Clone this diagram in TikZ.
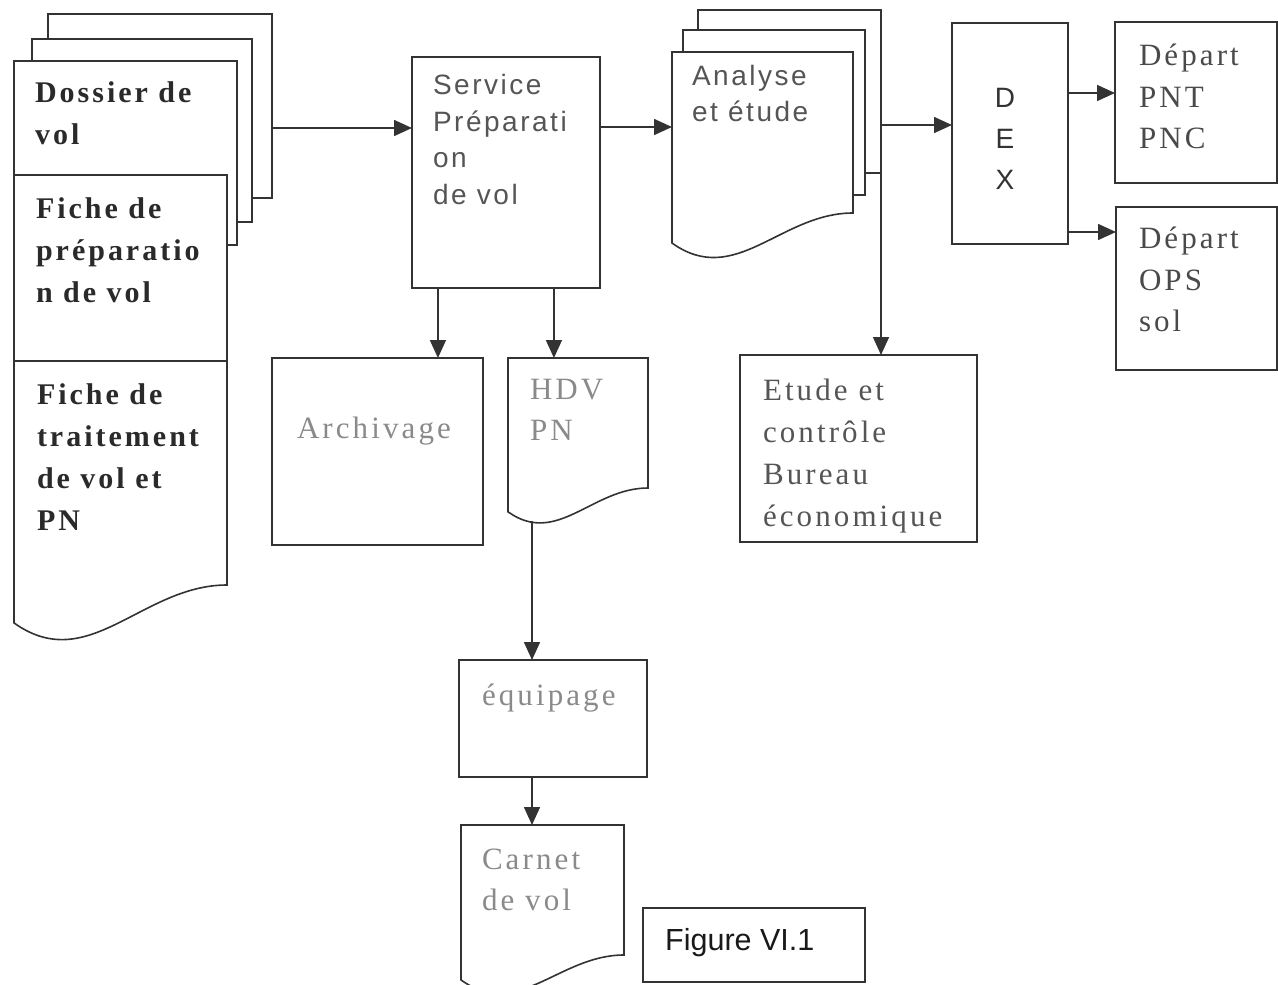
\documentclass[tikz,border=0pt]{standalone}
\usepackage{fontspec}
\setmainfont{Liberation Serif}
\newfontfamily\tnr[LetterSpace=10]{Liberation Serif}
\newfontfamily\arl[LetterSpace=9]{Liberation Sans}
\newfontfamily\arlplain{Liberation Sans}
\usetikzlibrary{arrows.meta,calc}

\definecolor{ink}{HTML}{333333}
\definecolor{tdark}{HTML}{2A2A2A}
\definecolor{tmid}{HTML}{555555}
\definecolor{tlight}{HTML}{8A8A8A}

% outline of a flowchart "document" sheet with a wavy lower edge
\newcommand\docsheet[2]{%
  \draw[line,fill=white] let \p1=(#1.north west), \p2=(#1.south east),
      \n1={\x2-\x1}, \n2={#2*\n1} in
    (\p1) -- (\x1,\y2-\n2)
    .. controls (\x1+0.35*\n1,\y2-\n2-0.25*\n1) and (\x1+0.6*\n1,\y2) .. (\p2)
    -- (\x2,\y1) -- cycle;}

\begin{document}
\begin{tikzpicture}[x=1pt,y=-1pt,
  line/.style={draw=ink,line width=1.6pt},
  frame/.style={line,fill=white,rectangle,inner sep=0pt,outer sep=0pt},
  ghost/.style={rectangle,inner sep=0pt,outer sep=0pt,draw=none},
  arr/.style={draw=ink,line width=1.6pt,-{Triangle[length=18pt,width=16pt]}},
  lbl/.style={anchor=north west,inner sep=0pt,outer sep=0pt,align=left},
  boldtxt/.style={lbl,text=tdark,font=\tnr\bfseries\fontsize{30}{42}\selectfont},
  sanstxt/.style={lbl,text=tmid,font=\arl\fontsize{28}{36.5}\selectfont},
  serifdark/.style={lbl,text=tdark!85,font=\tnr\fontsize{31}{41.5}\selectfont},
  serifmid/.style={lbl,text=tmid,font=\tnr\fontsize{31}{42}\selectfont},
  seriflight/.style={lbl,text=tlight,font=\tnr\fontsize{31}{41}\selectfont},
]
\path[use as bounding box,fill=white] (0,0) rectangle (1278,985);

% ---- stack of flight files
\node[frame,minimum width=224,minimum height=184] (dos3) at (160,106) {};
\node[frame,minimum width=220,minimum height=183] (dos2) at (142,130.5) {};
\node[frame,minimum width=223,minimum height=184] (dos1) at (125.5,153) {};
\node[frame,minimum width=213,minimum height=186] (fprep) at (120.5,268) {};
\node[ghost,minimum width=213,minimum height=224] (ftrait) at (120.5,473) {};
\docsheet{ftrait}{0.178}
\node[boldtxt] (tdos) at (35,81.5) {Dossier de\\vol};
\node[boldtxt] (tprep) at (36,197.5) {Fiche de\\préparatio\\n de vol};
\node[boldtxt] (ttrait) at (37,383.5) {Fiche de\\traitement\\de vol et\\PN};

% ---- flight preparation service
\node[frame,minimum width=188,minimum height=231] (serv) at (506,172.5) {};
\node[sanstxt] (tserv) at (433,74.5) {Service\\Préparati\\on\\de vol};

% ---- analysis stack
\node[frame,minimum width=183,minimum height=163] (an3) at (789.5,91.5) {};
\node[frame,minimum width=182,minimum height=165] (an2) at (774,112.5) {};
\node[ghost,minimum width=181,minimum height=161] (an1) at (762.5,132.5) {};
\docsheet{an1}{0.166}
\node[sanstxt] (tan) at (692,65) {Analyse\\et étude};

% ---- DEX and departures
\node[frame,minimum width=116,minimum height=221] (dex) at (1010,133.5) {};
\node[anchor=north,inner sep=0pt,align=center,text=ink,
      font=\arlplain\fontsize{28}{41}\selectfont] (tdex) at (1005,88) {D\\E\\X};
\node[frame,minimum width=162,minimum height=161] (pnt) at (1196,102.5) {};
\node[serifdark] (tpnt) at (1139,44) {Départ\\PNT\\PNC};
\node[frame,minimum width=161,minimum height=163] (ops) at (1196.5,288.5) {};
\node[serifdark] (tops) at (1139,227) {Départ\\OPS\\sol};

% ---- economic office
\node[frame,minimum width=237,minimum height=187] (etude) at (858.5,448.5) {};
\node[serifmid] (tetude) at (763,379) {Etude et\\contrôle\\Bureau\\économique};

% ---- archive and crew documents
\node[frame,minimum width=211,minimum height=187] (arch) at (377.5,451.5) {};
\node[seriflight] (tarch) at (297,417) {Archivage};
\node[ghost,minimum width=140,minimum height=130] (hdv) at (578,423) {};
\docsheet{hdv}{0.17}
\node[seriflight] (thdv) at (530,379.5) {HDV\\PN};
\node[frame,minimum width=188,minimum height=117] (equip) at (553,718.5) {};
\node[seriflight] (tequip) at (482,684) {équipage};
\node[ghost,minimum width=163,minimum height=130] (carnet) at (542.5,890) {};
\docsheet{carnet}{0.153}
\node[seriflight] (tcarnet) at (482,849) {Carnet\\de vol};

% ---- caption
\node[frame,minimum width=222,minimum height=74] (fig) at (754,945) {};
\node[anchor=base west,inner sep=0pt,text=black!90,
      font=\arlplain\fontsize{30.5}{36}\selectfont] (tfig) at (665,950) {Figure VI.1};

% ---- connectors
\coordinate (row1) at (0,128);
\coordinate (row2) at (0,127);
\coordinate (row3) at (0,125);
\coordinate (rowa) at (0,93);
\coordinate (rowb) at (0,232);
\coordinate (hdvout) at (532,521);
\coordinate (servA) at ($(serv.south west)!0.138!(serv.south east)$);
\coordinate (servB) at ($(serv.south west)!0.755!(serv.south east)$);
\draw[arr] (dos3.east |- row1) -- (serv.west |- row1);
\draw[arr] (serv.east |- row2) -- (an1.west |- row2);
\draw[arr] (an3.east |- row3) -- (dex.west |- row3);
\draw[arr] (dex.east |- rowa) -- (pnt.west |- rowa);
\draw[arr] (dex.east |- rowb) -- (ops.west |- rowb);
\draw[arr] (an3.south east) -- (an3.south east |- etude.north);
\draw[arr] (servA) -- (servA |- arch.north);
\draw[arr] (servB) -- (servB |- hdv.north);
\draw[arr] (hdvout) -- (hdvout |- equip.north);
\draw[arr] (hdvout |- equip.south) -- (hdvout |- carnet.north);
\end{tikzpicture}
\end{document}
